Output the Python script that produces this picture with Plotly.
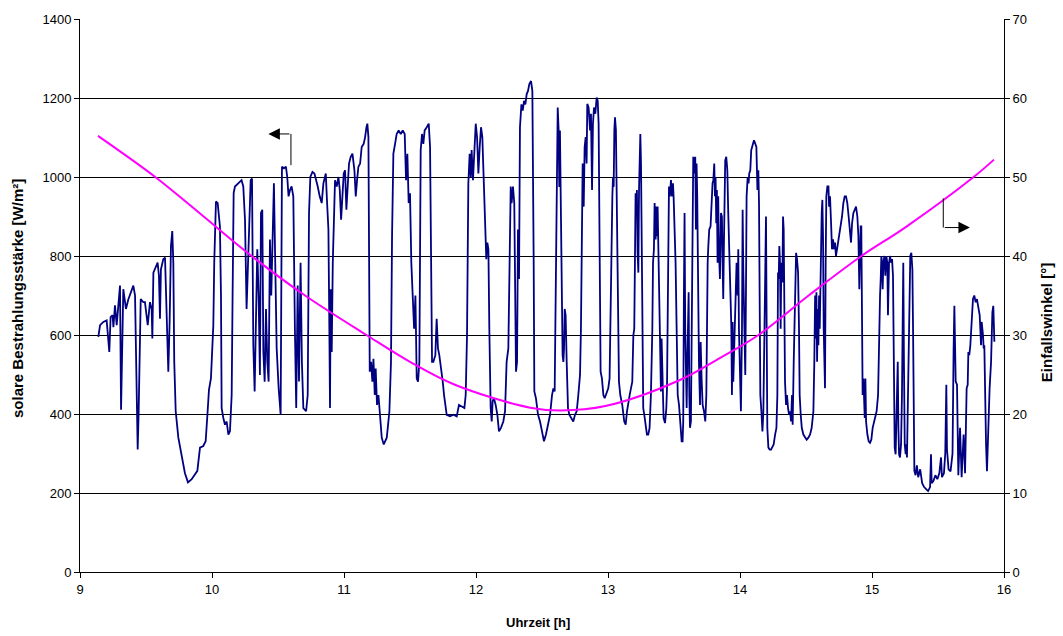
import plotly.graph_objects as go

# solar irradiance [W/m²] vs time [h], by segment
irr_09 = [(9.139, 595), (9.152, 625), (9.177, 633), (9.202, 637), (9.222, 557), (9.232, 645),
          (9.247, 650), (9.253, 620), (9.265, 675), (9.278, 625), (9.303, 725), (9.311, 411),
          (9.328, 716), (9.348, 666), (9.366, 690), (9.384, 708), (9.404, 725), (9.417, 700),
          (9.437, 310), (9.444, 400), (9.460, 691), (9.480, 683), (9.492, 683), (9.513, 625),
          (9.530, 683), (9.543, 666), (9.548, 591), (9.556, 758), (9.576, 774), (9.588, 783),
          (9.598, 750), (9.606, 641), (9.613, 766), (9.631, 792), (9.644, 796), (9.651, 700),
          (9.659, 582), (9.669, 507), (9.679, 633), (9.689, 825), (9.699, 863), (9.707, 783),
          (9.714, 532), (9.725, 407), (9.745, 340), (9.770, 290), (9.795, 250), (9.818, 227),
          (9.846, 235), (9.889, 256), (9.909, 315), (9.934, 319), (9.952, 331), (9.967, 407),
          (9.977, 461), (9.992, 490)]
irr_10 = [(10.002, 549), (10.010, 624), (10.017, 783), (10.030, 938), (10.043, 934), (10.053, 883),
          (10.060, 875), (10.068, 700), (10.073, 415), (10.086, 390), (10.098, 373), (10.111, 381),
          (10.124, 348), (10.136, 356), (10.149, 448), (10.156, 700), (10.164, 959), (10.174, 976),
          (10.199, 984), (10.224, 992), (10.237, 976), (10.250, 892), (10.262, 666), (10.275, 783),
          (10.293, 992), (10.303, 996), (10.313, 574), (10.323, 457), (10.333, 633), (10.343, 817),
          (10.353, 700), (10.363, 499), (10.371, 909), (10.381, 917), (10.389, 557), (10.399, 482),
          (10.409, 666), (10.419, 532), (10.429, 482), (10.439, 842), (10.449, 700), (10.459, 817),
          (10.469, 984), (10.479, 783), (10.490, 566), (10.505, 465), (10.520, 398), (10.530, 1026),
          (10.545, 1022), (10.560, 1026), (10.570, 1000), (10.580, 951), (10.591, 967), (10.603, 976),
          (10.616, 951), (10.628, 616), (10.638, 415), (10.649, 725), (10.659, 482), (10.671, 783),
          (10.681, 532), (10.692, 415), (10.713, 407), (10.725, 448), (10.735, 909), (10.745, 1000),
          (10.761, 1013), (10.776, 1009), (10.786, 992), (10.801, 976), (10.816, 951), (10.831, 934),
          (10.844, 984), (10.862, 1009), (10.872, 934), (10.882, 867), (10.889, 616), (10.894, 415),
          (10.899, 716), (10.907, 557), (10.915, 783), (10.922, 909), (10.932, 992), (10.945, 976),
          (10.958, 1000), (10.968, 967), (10.978, 892), (10.988, 951), (10.998, 1009)]
irr_11 = [(11.008, 1017), (11.018, 917), (11.028, 976), (11.038, 1034), (11.051, 1051), (11.064, 1059),
          (11.079, 1017), (11.089, 951), (11.099, 992), (11.109, 1026), (11.122, 1034), (11.134, 1076),
          (11.149, 1084), (11.160, 1101), (11.170, 1126), (11.177, 1135), (11.185, 1101), (11.190, 867),
          (11.195, 507), (11.205, 532), (11.215, 482), (11.223, 540), (11.233, 448), (11.240, 515),
          (11.250, 423), (11.261, 448), (11.273, 381), (11.286, 340), (11.301, 323), (11.324, 340),
          (11.344, 407), (11.356, 532), (11.364, 850), (11.374, 1059), (11.387, 1084), (11.399, 1109),
          (11.414, 1118), (11.430, 1109), (11.445, 1118), (11.460, 1109), (11.470, 992), (11.480, 1059),
          (11.490, 934), (11.500, 959), (11.510, 783), (11.520, 700), (11.531, 616), (11.541, 700),
          (11.551, 490), (11.561, 482), (11.571, 532), (11.581, 1068), (11.591, 1109), (11.601, 1084),
          (11.611, 1118), (11.627, 1126), (11.642, 1135), (11.652, 1076), (11.659, 742), (11.667, 532),
          (11.677, 532), (11.692, 549), (11.702, 641), (11.712, 566), (11.722, 549), (11.738, 515),
          (11.748, 482), (11.758, 448), (11.768, 415), (11.778, 398), (11.803, 394), (11.829, 398),
          (11.854, 394), (11.871, 423), (11.892, 419), (11.912, 415), (11.922, 448), (11.932, 599),
          (11.942, 984), (11.952, 1059), (11.960, 1000), (11.967, 1068), (11.977, 992), (11.987, 1084),
          (11.998, 1135)]
irr_12 = [(12.008, 1101), (12.018, 1009), (12.028, 1076), (12.038, 1126), (12.048, 1101), (12.058, 992),
          (12.068, 867), (12.078, 792), (12.086, 834), (12.094, 817), (12.101, 616), (12.111, 415),
          (12.119, 381), (12.126, 432), (12.136, 440), (12.149, 423), (12.162, 398), (12.174, 356),
          (12.189, 365), (12.207, 381), (12.220, 407), (12.232, 532), (12.245, 566), (12.255, 783),
          (12.263, 976), (12.270, 934), (12.280, 976), (12.290, 934), (12.296, 616), (12.303, 507),
          (12.311, 532), (12.318, 867), (12.326, 742), (12.333, 1126), (12.344, 1184), (12.354, 1168),
          (12.364, 1193), (12.374, 1184), (12.384, 1210), (12.394, 1218), (12.404, 1235), (12.417, 1243),
          (12.427, 1218), (12.431, 1084), (12.437, 783), (12.442, 457), (12.454, 440), (12.470, 398),
          (12.485, 381), (12.500, 356), (12.515, 331), (12.530, 348), (12.545, 373), (12.561, 398),
          (12.576, 448), (12.586, 465), (12.596, 457), (12.606, 783), (12.614, 1034), (12.619, 1176),
          (12.626, 1118), (12.631, 975), (12.636, 1118), (12.641, 992), (12.646, 867), (12.651, 616),
          (12.656, 549), (12.662, 532), (12.667, 566), (12.672, 666), (12.679, 650), (12.687, 532),
          (12.697, 415), (12.707, 398), (12.722, 390), (12.737, 381), (12.750, 398), (12.763, 407),
          (12.775, 448), (12.788, 499), (12.795, 616), (12.803, 909), (12.808, 1034), (12.816, 925),
          (12.823, 1076), (12.831, 1101), (12.838, 1034), (12.843, 1185), (12.853, 1176), (12.864, 1118),
          (12.871, 1160), (12.879, 967), (12.886, 1135), (12.894, 1176), (12.904, 1160), (12.914, 1201),
          (12.922, 1193), (12.929, 1135), (12.934, 951), (12.939, 616), (12.944, 507), (12.954, 490),
          (12.965, 448), (12.975, 440), (12.990, 457)]
irr_13 = [(13.002, 465), (13.012, 490), (13.020, 700), (13.028, 800), (13.033, 951), (13.038, 1000),
          (13.043, 975), (13.048, 1118), (13.053, 1151), (13.060, 1118), (13.068, 925), (13.073, 783),
          (13.078, 574), (13.083, 482), (13.093, 448), (13.108, 423), (13.123, 381), (13.134, 373),
          (13.144, 407), (13.154, 423), (13.164, 448), (13.174, 465), (13.184, 482), (13.192, 599),
          (13.199, 616), (13.204, 783), (13.209, 959), (13.214, 909), (13.219, 967), (13.224, 808),
          (13.230, 758), (13.235, 967), (13.240, 1059), (13.245, 1109), (13.250, 1034), (13.255, 867),
          (13.260, 532), (13.267, 415), (13.275, 398), (13.285, 365), (13.295, 348), (13.305, 348),
          (13.315, 365), (13.325, 448), (13.336, 616), (13.341, 783), (13.348, 817), (13.353, 934),
          (13.361, 842), (13.366, 925), (13.371, 850), (13.376, 925), (13.384, 742), (13.391, 616),
          (13.396, 482), (13.401, 457), (13.406, 591), (13.414, 448), (13.421, 390), (13.432, 377),
          (13.442, 415), (13.447, 465), (13.452, 700), (13.457, 917), (13.462, 976), (13.469, 951),
          (13.477, 992), (13.485, 951), (13.492, 984), (13.497, 951), (13.505, 883), (13.512, 783),
          (13.520, 616), (13.528, 448), (13.538, 423), (13.548, 373), (13.558, 331), (13.565, 331),
          (13.570, 381), (13.575, 700), (13.580, 909), (13.585, 616), (13.590, 448), (13.596, 415),
          (13.601, 532), (13.606, 700), (13.611, 708), (13.616, 448), (13.621, 365), (13.628, 381),
          (13.636, 616), (13.641, 909), (13.646, 1051), (13.654, 1009), (13.661, 1051), (13.666, 867),
          (13.671, 1034), (13.676, 951), (13.681, 742), (13.689, 532), (13.697, 423), (13.702, 582),
          (13.709, 490), (13.717, 423), (13.727, 407), (13.737, 381), (13.745, 448), (13.750, 700),
          (13.755, 783), (13.760, 825), (13.767, 867), (13.777, 875), (13.782, 909), (13.787, 967),
          (13.792, 984), (13.798, 992), (13.805, 1034), (13.810, 951), (13.815, 1000), (13.820, 883),
          (13.825, 967), (13.830, 783), (13.835, 951), (13.840, 817), (13.848, 742), (13.856, 909),
          (13.863, 900), (13.868, 783), (13.873, 691), (13.878, 825), (13.883, 934), (13.888, 1042),
          (13.896, 1051), (13.904, 1017), (13.911, 909), (13.919, 783), (13.926, 700), (13.934, 624),
          (13.939, 448), (13.944, 633), (13.949, 482), (13.954, 532), (13.959, 591), (13.967, 700),
          (13.974, 783), (13.982, 700), (13.987, 817), (13.992, 616)]
irr_14 = [(14.000, 490), (14.007, 407), (14.015, 616), (14.020, 917), (14.025, 766), (14.032, 616),
          (14.040, 499), (14.045, 700), (14.050, 951), (14.058, 1000), (14.065, 984), (14.070, 1009),
          (14.078, 1017), (14.085, 1068), (14.096, 1084), (14.106, 1093), (14.116, 1084), (14.124, 1076),
          (14.132, 967), (14.139, 1017), (14.144, 934), (14.149, 700), (14.154, 448), (14.162, 407),
          (14.170, 356), (14.177, 407), (14.185, 616), (14.192, 900), (14.197, 900), (14.202, 616),
          (14.207, 365), (14.215, 315), (14.225, 310), (14.235, 310), (14.245, 315), (14.255, 323),
          (14.266, 348), (14.276, 365), (14.283, 448), (14.288, 758), (14.293, 742), (14.298, 825),
          (14.303, 783), (14.308, 616), (14.313, 783), (14.321, 733), (14.326, 900), (14.331, 867),
          (14.336, 616), (14.341, 482), (14.349, 423), (14.356, 448), (14.364, 415), (14.372, 398),
          (14.379, 407), (14.387, 381), (14.394, 448), (14.399, 373), (14.407, 532), (14.412, 616),
          (14.417, 766), (14.425, 808), (14.432, 792), (14.440, 758), (14.447, 616), (14.452, 448),
          (14.460, 398), (14.468, 365), (14.480, 348), (14.493, 340), (14.505, 335), (14.518, 340),
          (14.531, 348), (14.543, 365), (14.556, 407), (14.563, 532), (14.569, 700), (14.574, 591),
          (14.579, 708), (14.584, 532), (14.589, 666), (14.594, 574), (14.599, 700), (14.604, 616),
          (14.609, 742), (14.614, 867), (14.619, 909), (14.624, 942), (14.629, 850), (14.634, 616),
          (14.639, 532), (14.644, 465), (14.649, 783), (14.654, 951), (14.662, 976), (14.670, 976),
          (14.675, 925), (14.682, 951), (14.690, 883), (14.697, 817), (14.705, 842), (14.712, 817),
          (14.720, 834), (14.727, 800), (14.735, 817), (14.743, 834), (14.753, 850), (14.763, 867),
          (14.773, 900), (14.783, 934), (14.793, 951), (14.803, 951), (14.813, 934), (14.823, 900),
          (14.834, 850), (14.841, 834), (14.849, 883), (14.859, 909), (14.869, 917), (14.879, 925),
          (14.889, 900), (14.897, 850), (14.904, 716), (14.909, 867), (14.914, 875), (14.919, 875),
          (14.924, 532), (14.929, 448), (14.935, 490), (14.940, 432), (14.945, 390), (14.950, 490),
          (14.955, 381), (14.965, 348), (14.975, 331), (14.985, 327), (14.995, 335)]
irr_15 = [(15.005, 365), (15.015, 381), (15.025, 398), (15.035, 407), (15.046, 448), (15.051, 574),
          (15.056, 582), (15.061, 700), (15.066, 742), (15.071, 800), (15.076, 783), (15.081, 716),
          (15.086, 783), (15.094, 800), (15.101, 750), (15.109, 800), (15.116, 783), (15.121, 650),
          (15.129, 783), (15.137, 800), (15.144, 783), (15.152, 792), (15.159, 750), (15.167, 448),
          (15.172, 315), (15.179, 298), (15.184, 365), (15.190, 440), (15.195, 532), (15.200, 365),
          (15.205, 298), (15.212, 290), (15.220, 323), (15.227, 448), (15.232, 616), (15.237, 783),
          (15.242, 532), (15.248, 323), (15.255, 298), (15.260, 323), (15.265, 290), (15.275, 532),
          (15.283, 742), (15.290, 800), (15.298, 808), (15.306, 766), (15.311, 616), (15.316, 365),
          (15.321, 256), (15.330, 245), (15.340, 270), (15.350, 240), (15.365, 260), (15.380, 225),
          (15.395, 215), (15.410, 210), (15.425, 205), (15.440, 215), (15.447, 298), (15.452, 225),
          (15.465, 230), (15.480, 245), (15.495, 235), (15.510, 250), (15.523, 290), (15.530, 240),
          (15.545, 250), (15.555, 300), (15.563, 474), (15.568, 310), (15.580, 260), (15.595, 255),
          (15.610, 300), (15.618, 560), (15.624, 674), (15.634, 482), (15.644, 474), (15.654, 245),
          (15.667, 365), (15.679, 240), (15.694, 348), (15.705, 250), (15.717, 465), (15.725, 474),
          (15.730, 557), (15.737, 549), (15.745, 574), (15.755, 633), (15.765, 691), (15.775, 700),
          (15.785, 683), (15.795, 691), (15.806, 666), (15.816, 650), (15.826, 574), (15.831, 633),
          (15.841, 599), (15.846, 566), (15.851, 574), (15.856, 448), (15.864, 323), (15.871, 255),
          (15.881, 365), (15.891, 465), (15.902, 532), (15.912, 658), (15.919, 674), (15.927, 583)]

# incidence angle [°] vs time [h]
angle_time = [9.136, 9.57, 9.90, 10.30, 10.705, 11.17, 11.50, 11.84, 12.41, 12.64, 12.98,
              13.545, 13.85, 14.14, 14.52, 14.92, 15.25, 15.77, 15.924]
angle_deg = [55.2, 50.0, 45.5, 40.0, 35.0, 30.0, 26.6, 23.7, 20.8, 20.45, 21.0,
             24.3, 27.1, 30.0, 35.0, 40.0, 43.6, 50.0, 52.2]

x_ticks = [9, 10, 11, 12, 13, 14, 15, 16]
y_ticks = [0, 200, 400, 600, 800, 1000, 1200, 1400]
y2_ticks = [0, 10, 20, 30, 40, 50, 60, 70]

segments = [irr_09, irr_10, irr_11, irr_12, irr_13, irr_14, irr_15]
irr_t = [p[0] for s in segments for p in s]
irr_v = [p[1] for s in segments for p in s]

FONT = "Liberation Sans, Arial, sans-serif"

fig = go.Figure()
fig.add_trace(go.Scatter(x=irr_t, y=irr_v, mode="lines",
                         line=dict(color="#000080", width=1.8), yaxis="y", showlegend=False))
fig.add_trace(go.Scatter(x=angle_time, y=angle_deg, mode="lines",
                         line=dict(color="#FF00FF", width=2, shape="spline", smoothing=1.0),
                         yaxis="y2", showlegend=False))

# pointer arrows
fig.add_shape(type="line", xref="x", yref="y", x0=10.598, x1=10.598, y0=1030, y1=1109,
              line=dict(color="black", width=1))
fig.add_annotation(x=10.427, y=1109, ax=10.598, ay=1109, xref="x", yref="y", axref="x", ayref="y",
                   text="", showarrow=True, arrowhead=2, arrowsize=2.3, arrowwidth=1, arrowcolor="black")
fig.add_shape(type="line", xref="x", yref="y", x0=15.540, x1=15.540, y0=946, y1=872,
              line=dict(color="black", width=1))
fig.add_annotation(x=15.742, y=872, ax=15.540, ay=872, xref="x", yref="y", axref="x", ayref="y",
                   text="", showarrow=True, arrowhead=2, arrowsize=2.3, arrowwidth=1, arrowcolor="black")

# axis titles
fig.add_annotation(text="<b>Uhrzeit [h]</b>", xref="paper", yref="paper", x=0.4957, y=-0.0916,
                   xanchor="center", yanchor="middle", showarrow=False,
                   font=dict(family=FONT, size=13, color="black"))
fig.add_annotation(text="<b>solare Bestrahlungsstärke [W/m²]</b>", xref="paper", yref="paper",
                   x=-0.0671, y=0.4955, textangle=-90, xanchor="center", yanchor="middle",
                   showarrow=False, font=dict(family=FONT, size=15, color="black"))
fig.add_annotation(text="<b>Einfallswinkel [°]</b>", xref="paper", yref="paper",
                   x=1.0455, y=0.45, textangle=-90, xanchor="center", yanchor="middle",
                   showarrow=False, font=dict(family=FONT, size=15, color="black"))

axis_common = dict(showline=True, linecolor="black", linewidth=1, ticks="outside", ticklen=5,
                   tickcolor="black", tickfont=dict(family=FONT, size=13, color="black"), zeroline=False)

fig.update_layout(
    width=1063, height=636,
    margin=dict(l=80, r=59, t=14, b=64),
    plot_bgcolor="white", paper_bgcolor="white",
    font=dict(family=FONT, size=13, color="black"),
    xaxis=dict(range=[9, 16], tickvals=x_ticks, showgrid=False, **axis_common),
    yaxis=dict(range=[0, 1400], tickvals=y_ticks, showgrid=True, gridcolor="black", gridwidth=1,
               **axis_common),
    yaxis2=dict(range=[0, 70], tickvals=y2_ticks, overlaying="y", side="right", showgrid=False,
                **axis_common),
)

fig.write_html("out.html")
